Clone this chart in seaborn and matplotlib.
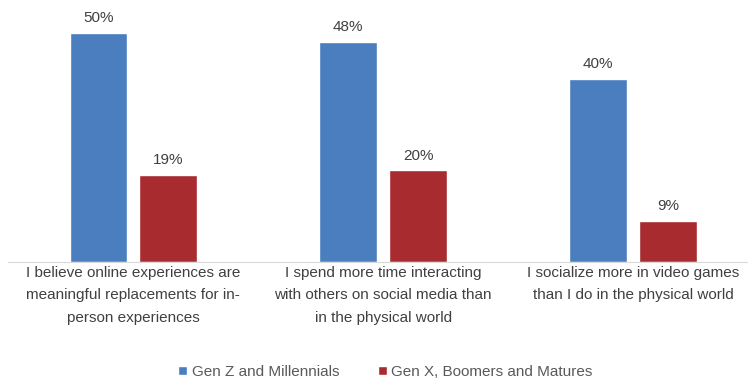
import pandas as pd
import seaborn as sns
import matplotlib.pyplot as plt

categories = [
    "I believe online experiences are\nmeaningful replacements for in-\nperson experiences",
    "I spend more time interacting\nwith others on social media than\nin the physical world",
    "I socialize more in video games\nthan I do in the physical world",
]
series = ["Gen Z and Millennials", "Gen X, Boomers and Matures"]
gen_z_mill = [50, 48, 40]
gen_x_boom = [19, 20, 9]
colors = ["#4a7ebf", "#a82b30"]

df = pd.DataFrame({
    "statement": categories * 2,
    "group": [series[0]] * 3 + [series[1]] * 3,
    "pct": gen_z_mill + gen_x_boom,
})

sns.set_style("white")
plt.rcParams["font.family"] = ["Liberation Sans", "DejaVu Sans"]

fig = plt.figure(figsize=(7.48, 3.83), dpi=100)
ax = fig.add_axes([0.011, 0.316, 0.989, 0.684])

sns.barplot(data=df, x="statement", y="pct", hue="group", palette=colors,
            width=0.56, gap=0.18, saturation=1, ax=ax)

for cont in ax.containers:
    ax.bar_label(cont, labels=[f"{v:.0f}%" for v in cont.datavalues],
                 padding=5.5, fontsize=11, color="#404040")

ax.set_ylim(0, 57.2)
ax.set_xlim(-0.5, 2.46)
ax.set_yticks([])
ax.set_xlabel("")
ax.set_ylabel("")
for s in ["top", "left", "right"]:
    ax.spines[s].set_visible(False)
ax.spines["bottom"].set_color("#d9d9d9")
ax.tick_params(axis="x", length=0, pad=3, labelsize=11, labelcolor="#404040")
for t in ax.get_xticklabels():
    t.set_linespacing(1.75)

ax.legend(loc="center", bbox_to_anchor=(0.51, -0.42), ncol=2, frameon=False,
          fontsize=11, labelcolor="#595959", handlelength=0.6, handleheight=0.6,
          handletextpad=0.3, columnspacing=2.5)

fig.savefig("out.png", dpi=100)
